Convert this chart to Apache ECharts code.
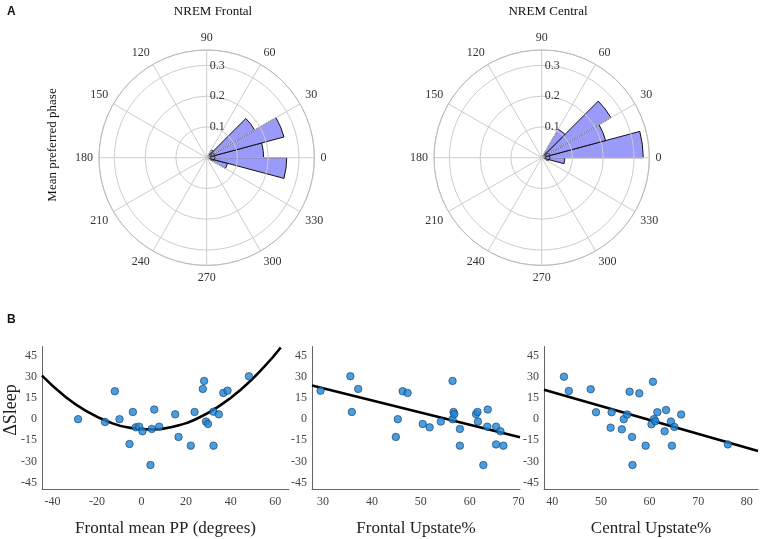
<!DOCTYPE html>
<html>
<head>
<meta charset="utf-8">
<script src="https://cdn.jsdelivr.net/npm/echarts@6/dist/echarts.min.js"></script>
<style>
  html, body { margin: 0; padding: 0; background: #fff; }
  #main { width: 760px; height: 539px; }
</style>
</head>
<body>
<div id="main"></div>
<script>
// phase bins of 15 degrees, counter-clockwise from 0
var phaseBins = ['0', '15', '30', '45', '60', '75', '90', '105', '120', '135', '150', '165',
  '180', '195', '210', '225', '240', '255', '270', '285', '300', '315', '330', '345'];
var frontalRose = [0.185, 0.26, 0.18, 0.03, null, null, null, null, null, null, null, null,
  null, null, null, null, null, null, null, null, null, null, 0.07, 0.26];
var centralRose = [0.33, 0.215, 0.26, 0.107, null, null, null, null, null, null, null, null,
  null, null, null, null, null, null, null, null, null, null, null, 0.075];
var radiusTicks = [0, 0.1, 0.2, 0.3];

// panel B scatter values
var frontalPP = [-28.5, -16.4, -12.0, -9.9, -5.4, -3.9, -2.6, -1.1, 0.4, 4.0, 4.6, 5.7, 7.9, 15.1,
  16.6, 22.1, 23.8, 27.5, 28.1, 28.9, 29.8, 32.3, 32.3, 34.7, 36.7, 38.6, 48.2];
var sleepPP = [0, -2.0, 19.8, 0, -17.6, 5.1, -5.8, -5.3, -8.6, -32.5, -6.9, 6.8, -5.3, 3.4,
  -12.6, -18.8, 5.1, 21.4, 27.1, -1.7, -3.4, 5.3, -18.8, 3.4, 18.6, 20.2, 30.4];

var frontalUp = [29.5, 35.6, 35.9, 37.2, 44.9, 45.3, 46.3, 47.3, 50.4, 51.8, 54.1, 56.5, 56.5, 56.7,
  56.85, 58.0, 58.0, 61.3, 61.6, 61.7, 62.8, 63.7, 63.6, 65.4, 65.4, 66.3, 66.9];
var sleepFU = [20.2, 30.4, 5.1, 21.4, -12.6, 0, 19.8, 18.6, -3.4, -5.8, -1.7, 27.1, 0, 5.1,
  3.6, -6.9, -18.8, 3.6, 5.1, -1.7, -32.5, 6.8, -5.3, -5.3, -17.9, -8.6, -18.8];

var centralUp = [42.4, 43.4, 47.9, 49.0, 52.0, 52.2, 54.3, 54.7, 55.4, 55.9, 56.4, 56.5, 57.9,
  59.2, 60.4, 60.7, 60.9, 61.2, 61.6, 63.1, 63.4, 64.4, 64.6, 65.1, 66.5, 76.1];
var sleepCU = [30.1, 20.0, 21.2, 4.9, -6.0, 4.9, -7.2, 0, 3.3, 19.5, -12.6, -32.5, 18.3,
  -18.8, -3.6, 26.5, 0, -1.5, 4.9, -8.6, 6.5, -1.7, -18.8, -5.5, 3.3, -17.9];

// fitted lines
var ppFitX = [-44.7, -35, -25, -15, -5, 5, 15, 25, 35, 45, 55, 62.5];
var ppFitY = [30.8, 16.9, 5.9, -1.8, -6.2, -7.3, -5.0, 0.5, 9.4, 21.5, 37.0, 50.8];
var fuFitX = [27.75, 70.3];
var fuFitY = [23.8, -12.9];
var cuFitX = [38.3, 82.3];
var cuFitY = [20.8, -22.6];

var sleepTicks = [-45, -30, -15, 0, 15, 30, 45];
var ppTicks = [-40, -20, 0, 20, 40, 60];
var fuTicks = [30, 40, 50, 60, 70];
var cuTicks = [40, 50, 60, 70, 80];

var serif = 'Liberation Serif';

function pairs(xs, ys) {
  return xs.map(function (x, i) { return [x, ys[i]]; });
}

var chart = echarts.init(document.getElementById('main'), null, { renderer: 'canvas' });

var polarCenters = [[206.7, 157.7], [541.7, 157.7]];
var polarR = 107.7;

var polars = [];
var angleAxes = [];
var radiusAxes = [];
polarCenters.forEach(function (c, k) {
  // grid polar
  polars.push({ center: c, radius: polarR });
  angleAxes.push({
    polarIndex: 2 * k, type: 'value', min: 0, max: 360, interval: 30,
    startAngle: 90, clockwise: false, z: 5,
    axisLine: { lineStyle: { color: '#bbb', width: 1 } },
    axisTick: { show: false },
    splitLine: { lineStyle: { color: '#ccc', width: 1 } },
    axisLabel: {
      margin: 6, color: '#333', fontFamily: serif, fontSize: 12,
      formatter: function (v) { return v >= 360 ? '' : String((v + 90) % 360); }
    }
  });
  radiusAxes.push({
    polarIndex: 2 * k, type: 'value', min: 0, max: 0.35, interval: 0.1, z: 5,
    axisLine: { show: false },
    axisTick: { show: false },
    splitLine: { lineStyle: { color: '#ccc', width: 1 } },
    axisLabel: {
      customValues: radiusTicks, margin: -3, align: 'left', color: '#333', fontFamily: serif, fontSize: 12,
      formatter: function (v) { return v === 0 ? '0' : v.toFixed(1); }
    }
  });
  // bar polar
  polars.push({ center: c, radius: polarR });
  angleAxes.push({
    polarIndex: 2 * k + 1, type: 'category', data: phaseBins,
    startAngle: 0, clockwise: false, show: false
  });
  radiusAxes.push({
    polarIndex: 2 * k + 1, type: 'value', min: 0, max: 0.35, show: false
  });
});

var grids = [
  { left: 42, top: 346.5, width: 247, height: 142.5 },
  { left: 312, top: 346.5, width: 208, height: 142.5 },
  { left: 544, top: 346.5, width: 214, height: 142.5 }
];

function xAx(i, min, max, ticks, name) {
  return {
    gridIndex: i, type: 'value', min: min, max: max,
    axisLine: { onZero: false, lineStyle: { color: '#666', width: 1 } },
    axisTick: { show: false },
    splitLine: { show: false },
    axisLabel: { customValues: ticks, margin: 7, color: '#444', fontFamily: serif, fontSize: 12 },
    name: name, nameLocation: 'middle', nameGap: 31,
    nameTextStyle: { fontFamily: serif, fontSize: 17, color: '#222' }
  };
}
function yAx(i) {
  return {
    gridIndex: i, type: 'value', min: -49.5, max: 51.5,
    axisLine: { show: true, onZero: false, lineStyle: { color: '#666', width: 1 } },
    axisTick: { show: false },
    splitLine: { show: false },
    axisLabel: { customValues: sleepTicks, margin: 5, color: '#444', fontFamily: serif, fontSize: 12 }
  };
}

var dotStyle = { color: '#1a86d8', borderColor: '#1b3a5c', borderWidth: 0.8 };
var fitStyle = { color: '#000', width: 2.6 };

function scatter(i, xs, ys) {
  return {
    type: 'scatter', xAxisIndex: i, yAxisIndex: i, data: pairs(xs, ys),
    symbolSize: 7.5, itemStyle: dotStyle, z: 4
  };
}
function fit(i, xs, ys, smooth) {
  return {
    type: 'line', xAxisIndex: i, yAxisIndex: i, data: pairs(xs, ys),
    smooth: smooth, showSymbol: false, lineStyle: fitStyle, z: 3
  };
}

function rose(k, data) {
  return {
    type: 'bar', coordinateSystem: 'polar', polarIndex: 2 * k + 1, data: data,
    barCategoryGap: '0%', z: 2,
    itemStyle: { color: '#9a9afa', borderColor: '#111', borderWidth: 1 }
  };
}

var option = {
  animation: false,
  backgroundColor: '#fff',
  title: [
    { text: 'A', left: 2, top: 1, textStyle: { fontFamily: 'Liberation Sans', fontWeight: 'bold', fontSize: 12, color: '#111' } },
    { text: 'B', left: 2, top: 309, textStyle: { fontFamily: 'Liberation Sans', fontWeight: 'bold', fontSize: 12, color: '#111' } },
    { text: 'NREM Frontal', left: 208, top: 0, textAlign: 'center', textStyle: { fontFamily: serif, fontWeight: 'normal', fontSize: 13, color: '#111' } },
    { text: 'NREM Central', left: 543, top: 0, textAlign: 'center', textStyle: { fontFamily: serif, fontWeight: 'normal', fontSize: 13, color: '#111' } }
  ],
  graphic: [
    { type: 'text', x: 53, y: 145, rotation: Math.PI / 2,
      style: { text: 'Mean preferred phase', fontFamily: serif, fontSize: 13, fill: '#111', align: 'center', verticalAlign: 'middle' } },
    { type: 'text', x: 11, y: 410, rotation: Math.PI / 2,
      style: { text: 'ΔSleep', fontFamily: serif, fontSize: 18, fill: '#222', align: 'center', verticalAlign: 'middle' } }
  ],
  polar: polars,
  angleAxis: angleAxes,
  radiusAxis: radiusAxes,
  grid: grids,
  xAxis: [
    xAx(0, -44.7, 66.2, ppTicks, 'Frontal mean PP (degrees)'),
    xAx(1, 27.75, 70.3, fuTicks, 'Frontal Upstate%'),
    xAx(2, 38.3, 82.3, cuTicks, 'Central Upstate%')
  ],
  yAxis: [yAx(0), yAx(1), yAx(2)],
  series: [
    rose(0, frontalRose),
    rose(1, centralRose),
    fit(0, ppFitX, ppFitY, true),
    fit(1, fuFitX, fuFitY, false),
    fit(2, cuFitX, cuFitY, false),
    scatter(0, frontalPP, sleepPP),
    scatter(1, frontalUp, sleepFU),
    scatter(2, centralUp, sleepCU)
  ]
};

chart.setOption(option);
</script>
</body>
</html>
